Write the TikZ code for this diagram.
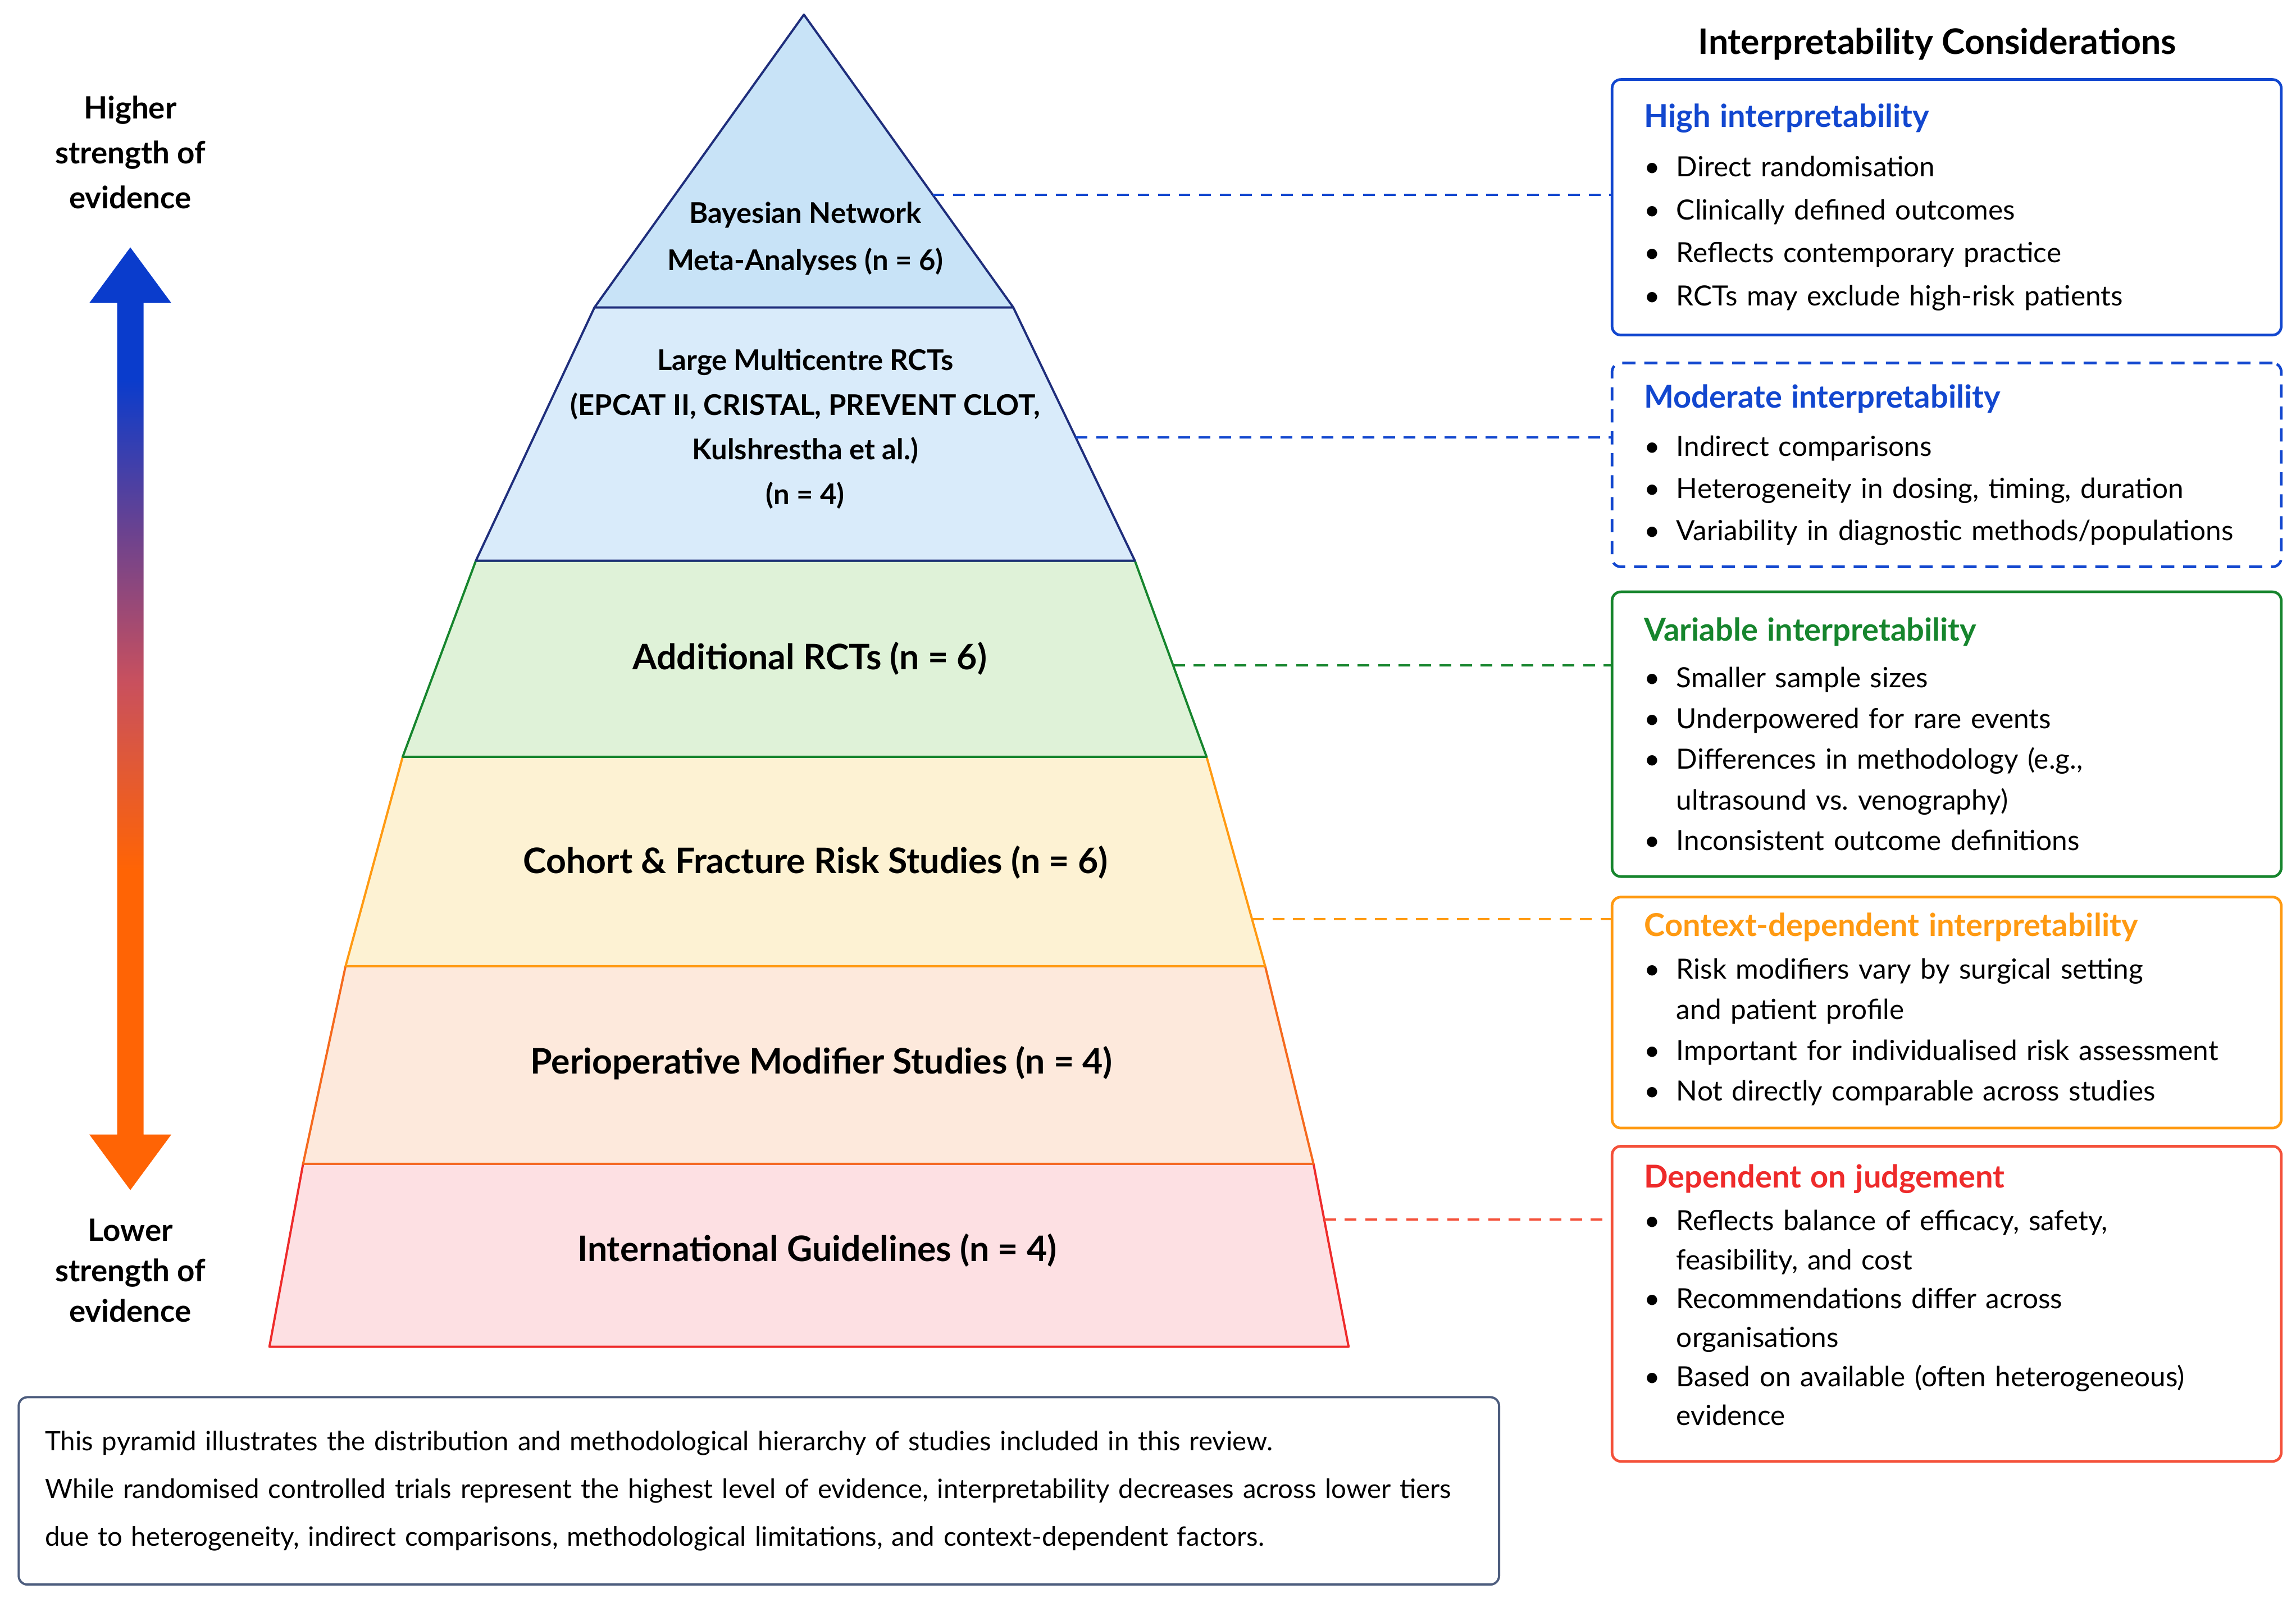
\documentclass[tikz,border=0pt]{standalone}
\usepackage{fontspec}
\setmainfont{Lato}
\usepackage{xcolor}
\definecolor{Deep Navy}{HTML}{1f2e7c}
\definecolor{Cobalt}{HTML}{1247cf}
\definecolor{Forest}{HTML}{16852d}
\definecolor{Amber}{HTML}{ff9a12}
\definecolor{Tangerine}{HTML}{f56a1e}
\definecolor{Signal Red}{HTML}{ee2b2b}
\definecolor{Coral}{HTML}{f4513a}
\definecolor{Slate}{HTML}{4d5d7e}
\definecolor{Sky}{HTML}{c8e3f7}
\definecolor{Pale Sky}{HTML}{d9ebfa}
\definecolor{Mint}{HTML}{dff2d8}
\definecolor{Cream}{HTML}{fdf2d3}
\definecolor{Peach}{HTML}{fde9dc}
\definecolor{Blush}{HTML}{fde0e3}
\colorlet{cNavy}{Deep Navy}
\colorlet{cBlue}{Cobalt}
\colorlet{cGreen}{Forest}
\colorlet{cYellow}{Amber}
\colorlet{cOrange}{Tangerine}
\colorlet{cRed}{Signal Red}
\colorlet{cCoral}{Coral}
\colorlet{cSlate}{Slate}
\colorlet{f1}{Sky}
\colorlet{f2}{Pale Sky}
\colorlet{f3}{Mint}
\colorlet{f4}{Cream}
\colorlet{f5}{Peach}
\colorlet{f6}{Blush}
\definecolor{aBlue}{HTML}{0a3ccc}
\definecolor{aPurple}{HTML}{6a4290}
\definecolor{aRose}{HTML}{c8505e}
\definecolor{aOrange}{HTML}{ff6405}
\usepackage{tikz}
\usetikzlibrary{calc, positioning}
\pgfdeclareverticalshading{evidence}{100bp}{color(0bp)=(aOrange); color(42bp)=(aOrange); color(52bp)=(aRose); color(60bp)=(aPurple); color(68bp)=(aBlue); color(100bp)=(aBlue)}
\newcommand{\bitem}{\makebox[22pt][l]{\textbullet}}
\newcommand{\bcont}{\hspace*{22pt}}
\newcommand{\lowpad}[1]{\rule[-#1]{0pt}{#1}}
\tikzset{
	tier/.style 2 args={
		fill=#1,
		draw=#2,
		line width=1.5pt,
		line join=round
	},
	tierlabel/.style={
		align=center,
		font=\bfseries\fontsize{24}{30}\selectfont
	},
	toplabel/.style={
		align=center,
		font=\bfseries\fontsize{19.5}{#1}\selectfont
	},
	strength/.style={
		align=center,
		font=\bfseries\fontsize{21}{#1}\selectfont
	},
	consider/.style 2 args={
		draw=#1,
		fill=white,
		line width=1.8pt,
		rounded corners=6pt,
		text width=413pt,
		inner xsep=22pt,
		inner ysep=0pt,
		align=left,
		font=\fontsize{19}{#2}\selectfont
	},
	link/.style={
		draw=#1,
		dash pattern=on 8pt off 6pt,
		line width=1.6pt
	}
}
\newcommand{\ctitle}[2]{\textcolor{#1}{\bfseries\fontsize{21.5}{24}\selectfont #2}}

\begin{document}
\begin{tikzpicture}[x=1pt, y=-1pt]
\fill[white, use as bounding box] (0,0) rectangle (1568,1095);

% ---
% pyramid
% ---
\coordinate (apex) at (549,10);
\coordinate (l1) at (406,210);
\coordinate (r1) at (692,210);
\coordinate (l2) at (325,383);
\coordinate (r2) at (775,383);
\coordinate (l3) at (275,517);
\coordinate (r3) at (824,517);
\coordinate (l4) at (236,660);
\coordinate (r4) at (864,660);
\coordinate (l5) at (207,795);
\coordinate (r5) at (897,795);
\coordinate (l6) at (184,920);
\coordinate (r6) at (921,920);

\filldraw[tier={f6}{cRed}] (l5) -- (r5) -- (r6) -- (l6) -- cycle;
\filldraw[tier={f5}{cOrange}] (l4) -- (r4) -- (r5) -- (l5) -- cycle;
\filldraw[tier={f4}{cYellow}] (l3) -- (r3) -- (r4) -- (l4) -- cycle;
\filldraw[tier={f3}{cGreen}] (l2) -- (r2) -- (r3) -- (l3) -- cycle;
\filldraw[tier={f2}{cNavy}] (l1) -- (r1) -- (r2) -- (l2) -- cycle;
\filldraw[tier={f1}{cNavy}] (apex) -- (r1) -- (l1) -- cycle;

\node[toplabel=32] (bayes) at (550,163) {Bayesian Network\\Meta-Analyses (n = 6)};
\node[toplabel=30.5] (large) at (550,293) {Large Multicentre RCTs\\(EPCAT II, CRISTAL, PREVENT CLOT,\\Kulshrestha et al.)\\(n = 4)};
\node[tierlabel] (addrct) at (553,450) {Additional RCTs (n = 6)};
\node[tierlabel] (cohort) at (557,589) {Cohort \& Fracture Risk Studies (n = 6)};
\node[tierlabel] (periop) at (561,726) {Perioperative Modifier Studies (n = 4)};
\node[tierlabel] (guide) at (558,854) {International Guidelines (n = 4)};

% ---
% strength arrow
% ---
\shade[shading=evidence] (89,169) -- (117,207) -- (98,207) -- (98,775) -- (117,775) -- (89,813) -- (61,775) -- (80,775) -- (80,207) -- (61,207) -- cycle;
\node[strength=30.7] (higher) at (89,104) {Higher\\strength of\\evidence};
\node[strength=27.5] (lower) at (89,868) {Lower\\strength of\\evidence};

% ---
% interpretability boxes
% ---
\node[font=\bfseries\fontsize{24}{28}\selectfont] (ichead) at (1323,30) {Interpretability Considerations};

\node[consider={cBlue}{29.4}, minimum height=174.6pt, anchor=north west] (high) at (1100,53.4) {%
\ctitle{cBlue}{High interpretability}\\[4.5pt]
\bitem Direct randomisation\\
\bitem Clinically defined outcomes\\
\bitem Reflects contemporary practice\\
\bitem RCTs may exclude high-risk patients};

\node[consider={cBlue}{28.8}, dash pattern=on 9pt off 6pt, minimum height=139.2pt, below=17.3pt of high] (moderate) {%
\ctitle{cBlue}{Moderate interpretability}\\[4pt]
\bitem Indirect comparisons\\
\bitem Heterogeneity in dosing, timing, duration\\
\bitem Variability in diagnostic methods/populations};

\node[consider={cGreen}{27.8}, minimum height=194.5pt, below=15.3pt of moderate] (variable) {%
\ctitle{cGreen}{Variable interpretability}\\[4pt]
\bitem Smaller sample sizes\\
\bitem Underpowered for rare events\\
\bitem Differences in methodology (e.g.,\\
\bcont ultrasound vs.\ venography)\\
\bitem Inconsistent outcome definitions};

\node[consider={cYellow}{27.7}, minimum height=157.8pt, below=12.2pt of variable] (context) {%
\ctitle{cYellow}{Context-dependent interpretability}\\[1.7pt]
\bitem Risk modifiers vary by surgical setting\\
\bcont and patient profile\\
\bitem Important for individualised risk assessment\\
\bitem Not directly comparable across studies\lowpad{8pt}};

\node[consider={cCoral}{26.6}, minimum height=215.3pt, below=10.6pt of context] (judge) {%
\ctitle{cRed}{Dependent on judgement}\\[2.5pt]
\bitem Reflects balance of efficacy, safety,\\
\bcont feasibility, and cost\\
\bitem Recommendations differ across\\
\bcont organisations\\
\bitem Based on available (often heterogeneous)\\
\bcont evidence\lowpad{12pt}};

% ---
% links
% ---
\coordinate (k1) at ($(apex)!0.615!(r1)$);
\coordinate (k2) at ($(r1)!0.514!(r2)$);
\coordinate (k3) at ($(r2)!0.533!(r3)$);
\coordinate (k4) at ($(r3)!0.776!(r4)$);
\coordinate (k5) at ($(r5)!0.304!(r6)$);
\draw[link=cBlue] (k1) -- (k1 -| high.west);
\draw[link=cBlue] (k2) -- (k2 -| moderate.west);
\draw[link=cGreen] (k3) -- (k3 -| variable.west);
\draw[link=cYellow] (k4) -- (k4 -| context.west);
\draw[link=cCoral] (k5) -- (k5 -| judge.west);

% ---
% note
% ---
\node[draw=cSlate, line width=1.5pt, rounded corners=6pt, anchor=north west, text width=975pt, inner xsep=18pt, minimum height=128pt, align=left, font=\fontsize{18.2}{32.5}\selectfont] (note) at (12,953.7) {%
This pyramid illustrates the distribution and methodological hierarchy of studies included in this review.\\
While randomised controlled trials represent the highest level of evidence, interpretability decreases across lower tiers\\
due to heterogeneity, indirect comparisons, methodological limitations, and context-dependent factors.};
\end{tikzpicture}
\end{document}
